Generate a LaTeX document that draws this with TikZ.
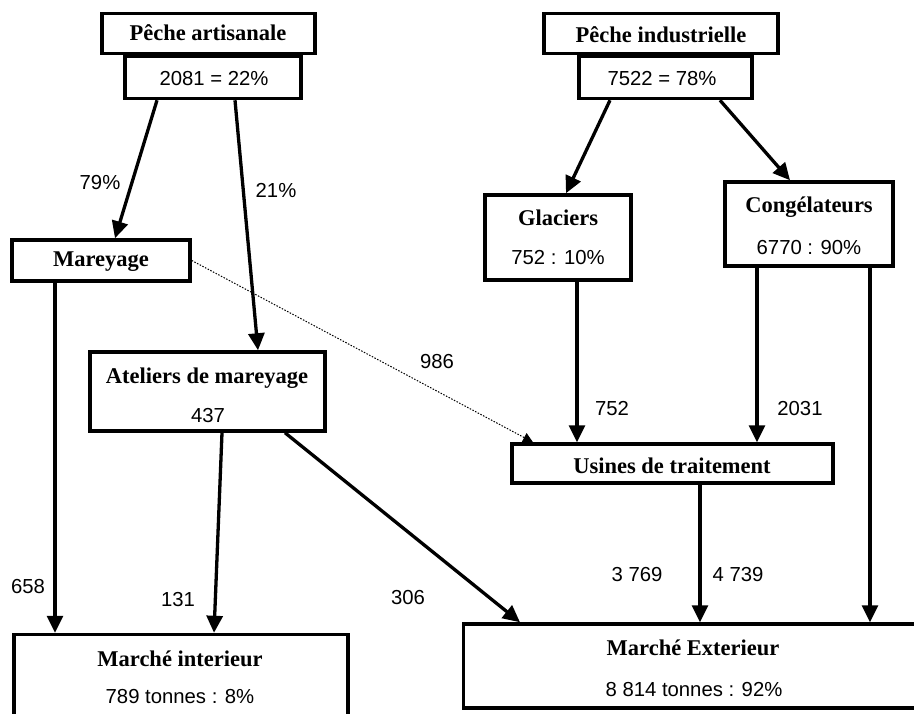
\documentclass[tikz,border=0pt]{standalone}
\usepackage{fontspec}
\setmainfont{Liberation Serif}
\newfontfamily\numfont{Liberation Sans}
\usetikzlibrary{arrows.meta}
\begin{document}
\begin{tikzpicture}[x=1pt,y=-1pt,
  box/.style={draw, line width=3.5pt, rectangle, fill=white, inner sep=0pt},
  ttl/.style={font=\bfseries\fontsize{22.5}{26}\selectfont, inner sep=0pt},
  num/.style={font=\numfont\fontsize{20.3}{24}\selectfont, inner sep=0pt},
  flow/.style={line width=3.3pt, -{Triangle[length=17pt,width=16pt]}},
  thinflow/.style={line width=1pt, dash pattern=on 1.5pt off 1.5pt, -{Triangle[length=10pt,width=10pt]}}
]
\useasboundingbox (0,0) rectangle (914,713);
\fill[white] (0,0) rectangle (914,713);
\clip (0,0) rectangle (914,713);

% boxes
\node[box, minimum width=213pt, minimum height=40pt] (pa1) at (208.5,33.5) {};
\node[box, minimum width=176pt, minimum height=42pt] (pa2) at (213,77.5) {};
\node[box, minimum width=234pt, minimum height=40pt] (pi1) at (661,33.5) {};
\node[box, minimum width=173pt, minimum height=42pt] (pi2) at (665.5,77.5) {};
\node[box, minimum width=178pt, minimum height=41pt] (mar) at (101,260.5) {};
\node[box, minimum width=235pt, minimum height=79pt] (at) at (207.5,391.5) {};
\node[box, minimum width=146pt, minimum height=85pt] (gl) at (558,237.5) {};
\node[box, minimum width=168pt, minimum height=84pt] (co) at (809,224) {};
\node[box, minimum width=321pt, minimum height=39pt] (us) at (672.5,463.5) {};
\node[box, minimum width=334pt, minimum height=94pt] (mi) at (181,681.5) {};
\node[box, minimum width=465pt, minimum height=84pt] (me) at (696,666) {};

% texts
\node[ttl] (pa1t) at (208,33) {Pêche artisanale};
\node[num] (pa2t) at (214,79) {2081 = 22\%};
\node[ttl] (pi1t) at (661,35) {Pêche industrielle};
\node[num] (pi2t) at (662,79) {7522 = 78\%};
\node[ttl] (mart) at (101,262) {Mareyage};
\node[ttl] (att) at (207,378) {Ateliers de mareyage};
\node[num] (atn) at (208,416) {437};
\node[ttl] (glt) at (558,218) {Glaciers};
\node[num] (gln) at (558,258) {752 : 10\%};
\node[ttl] (cot) at (809,207) {Congélateurs};
\node[num] (con) at (809,248) {6770 : 90\%};
\node[ttl] (ust) at (672,466) {Usines de traitement};
\node[ttl] (mit) at (180,659) {Marché interieur};
\node[num] (min) at (180,697) {789 tonnes : 8\%};
\node[ttl] (met) at (693,648) {Marché Exterieur};
\node[num] (men) at (694,690) {8 814 tonnes : 92\%};

% connectors
\draw[flow] ([xshift=-56pt]pa2.south) -- ([xshift=14pt]mar.north);
\draw[flow] ([xshift=22pt]pa2.south) -- ([xshift=50.5pt]at.north);
\draw[flow] ([xshift=-55.5pt]pi2.south) -- ([xshift=8pt]gl.north);
\draw[flow] ([xshift=54.5pt]pi2.south) -- ([xshift=-19pt]co.north);
\draw[flow] ([xshift=19pt]gl.south) -- ([xshift=-95.5pt]us.north);
\draw[flow] ([xshift=-52pt]co.south) -- ([xshift=84.5pt]us.north);
\draw[thinflow] (mar.east) -- ([xshift=-139.5pt]us.north);
\draw[flow] ([xshift=-46pt]mar.south) -- ([xshift=-126pt]mi.north);
\draw[flow] ([xshift=14.5pt]at.south) -- ([xshift=33pt]mi.north);
\draw[flow] ([xshift=77.5pt]at.south) -- ([xshift=-176pt]me.north);
\draw[flow] ([xshift=27.5pt]us.south) -- ([xshift=4pt]me.north);
\draw[flow] ([xshift=61pt]co.south) -- ([xshift=174pt]me.north);

% labels
\node[num] (l79) at (100,183) {79\%};
\node[num] (l21) at (276,190) {21\%};
\node[num] (l986) at (437,362) {986};
\node[num] (l752) at (612,409) {752};
\node[num] (l2031) at (800,409) {2031};
\node[num] (l658) at (28,587) {658};
\node[num] (l131) at (178,600) {131};
\node[num] (l306) at (408,598) {306};
\node[num] (l3769) at (637,575) {3 769};
\node[num] (l4739) at (738,575) {4 739};
\end{tikzpicture}
\end{document}
